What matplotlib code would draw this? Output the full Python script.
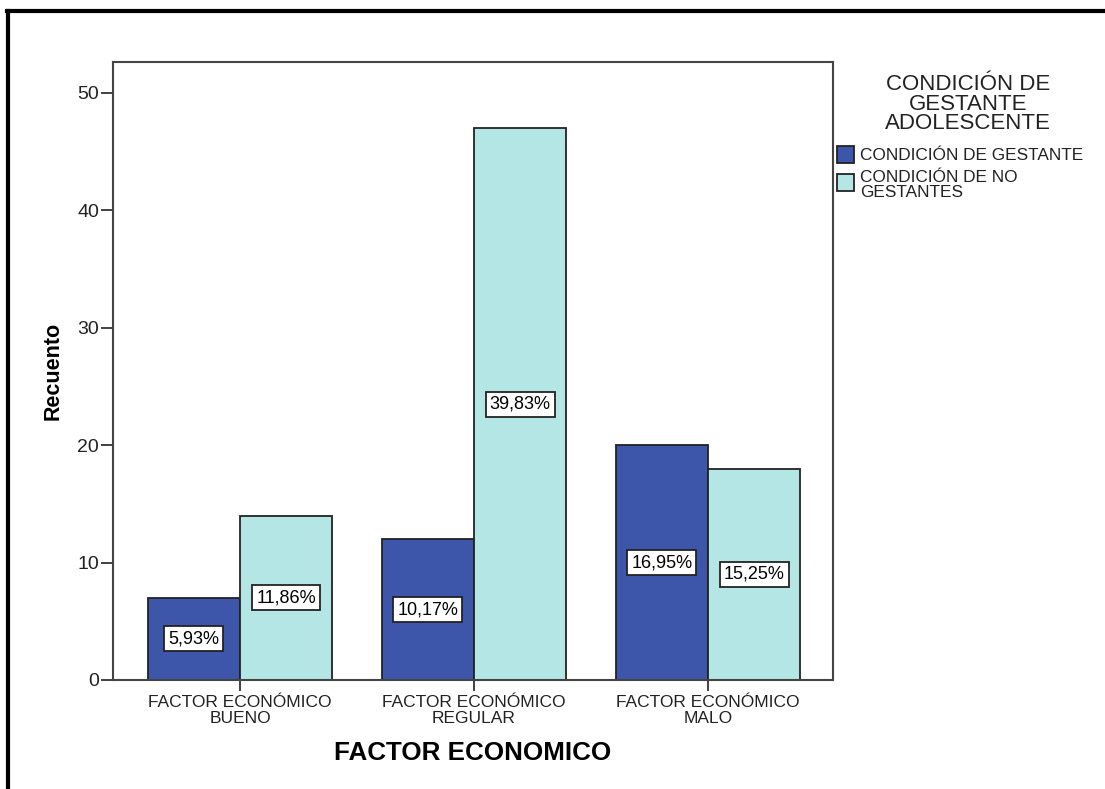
import matplotlib
matplotlib.use('Agg')
import matplotlib.pyplot as plt
import numpy as np
from matplotlib.lines import Line2D
from matplotlib.patches import Rectangle

plt.rcParams['font.family'] = ['Liberation Sans', 'DejaVu Sans']

categories = ['FACTOR ECONÓMICO\nBUENO', 'FACTOR ECONÓMICO\nREGULAR', 'FACTOR ECONÓMICO\nMALO']
gestante = [7, 12, 20]
no_gestante = [14, 47, 18]
pct_gestante = ['5,93%', '10,17%', '16,95%']
pct_no_gestante = ['11,86%', '39,83%', '15,25%']
series_names = ['CONDICIÓN DE GESTANTE', 'CONDICIÓN DE NO\nGESTANTES']
legend_title = 'CONDICIÓN DE\nGESTANTE\nADOLESCENTE'
colors = ['#3E56AA', '#B4E6E6']

W, H = 1105, 789
fig = plt.figure(figsize=(W / 100, H / 100), dpi=100)
fig.patch.set_facecolor('white')
ax = fig.add_axes([113 / W, 1 - 680 / H, 720 / W, 618 / H])

x = np.arange(len(categories))
width = 0.395
edge = '#222222'
b1 = ax.bar(x - width / 2, gestante, width, color=colors[0], edgecolor=edge, linewidth=1.3)
b2 = ax.bar(x + width / 2, no_gestante, width, color=colors[1], edgecolor=edge, linewidth=1.3)

for bars, labels in ((b1, pct_gestante), (b2, pct_no_gestante)):
    for rect, lab in zip(bars, labels):
        ax.text(rect.get_x() + rect.get_width() / 2, rect.get_height() / 2, lab,
                ha='center', va='center', fontsize=13,
                bbox=dict(boxstyle='square,pad=0.22', fc='white', ec='#222222', lw=1.3))

ax.set_xlim(-0.543, 2.534)
ax.set_ylim(0, 52.64)
ax.set_yticks([0, 10, 20, 30, 40, 50])
ax.set_xticks(x)
ax.set_xticklabels(categories, fontsize=12.5, linespacing=1.07)
ax.tick_params(axis='y', length=9, width=1.3, color='#333333', labelsize=14, pad=1,
               labelcolor='#222222')
ax.tick_params(axis='x', length=8, width=1.3, color='#333333', pad=3, labelcolor='#222222')
for s in ax.spines.values():
    s.set_color('#444444')
    s.set_linewidth(1.5)

ax.set_ylabel('Recuento', fontsize=15.5, fontweight='bold', labelpad=10)
ax.set_xlabel('FACTOR ECONOMICO', fontsize=18.7, fontweight='bold', labelpad=11)

# legend drawn in figure pixel coordinates
def fx(px):
    return px / W

def fy(py):
    return 1 - py / H

fig.text(fx(968), fy(104), legend_title, ha='center', va='center',
         fontsize=16, linespacing=0.88, color='#222222')
for i, (name, ytop) in enumerate(zip(series_names, (146, 174))):
    fig.add_artist(Rectangle((fx(837), fy(ytop + 17)), 17 / W, 17 / H,
                             transform=fig.transFigure, fc=colors[i], ec='#222222', lw=1.3))
fig.text(fx(860), fy(155), series_names[0], ha='left', va='center', fontsize=12.4,
         color='#222222')
fig.text(fx(860), fy(185), series_names[1], ha='left', va='center', fontsize=12.4,
         linespacing=1.05, color='#222222')

# outer frame
fig.add_artist(Line2D([fx(8), fx(8)], [0, fy(11)], transform=fig.transFigure,
                      color='black', lw=3))
fig.add_artist(Line2D([fx(6.5), 1], [fy(11), fy(11)], transform=fig.transFigure,
                      color='black', lw=3))

fig.savefig('out.png', dpi=100, facecolor='white')
